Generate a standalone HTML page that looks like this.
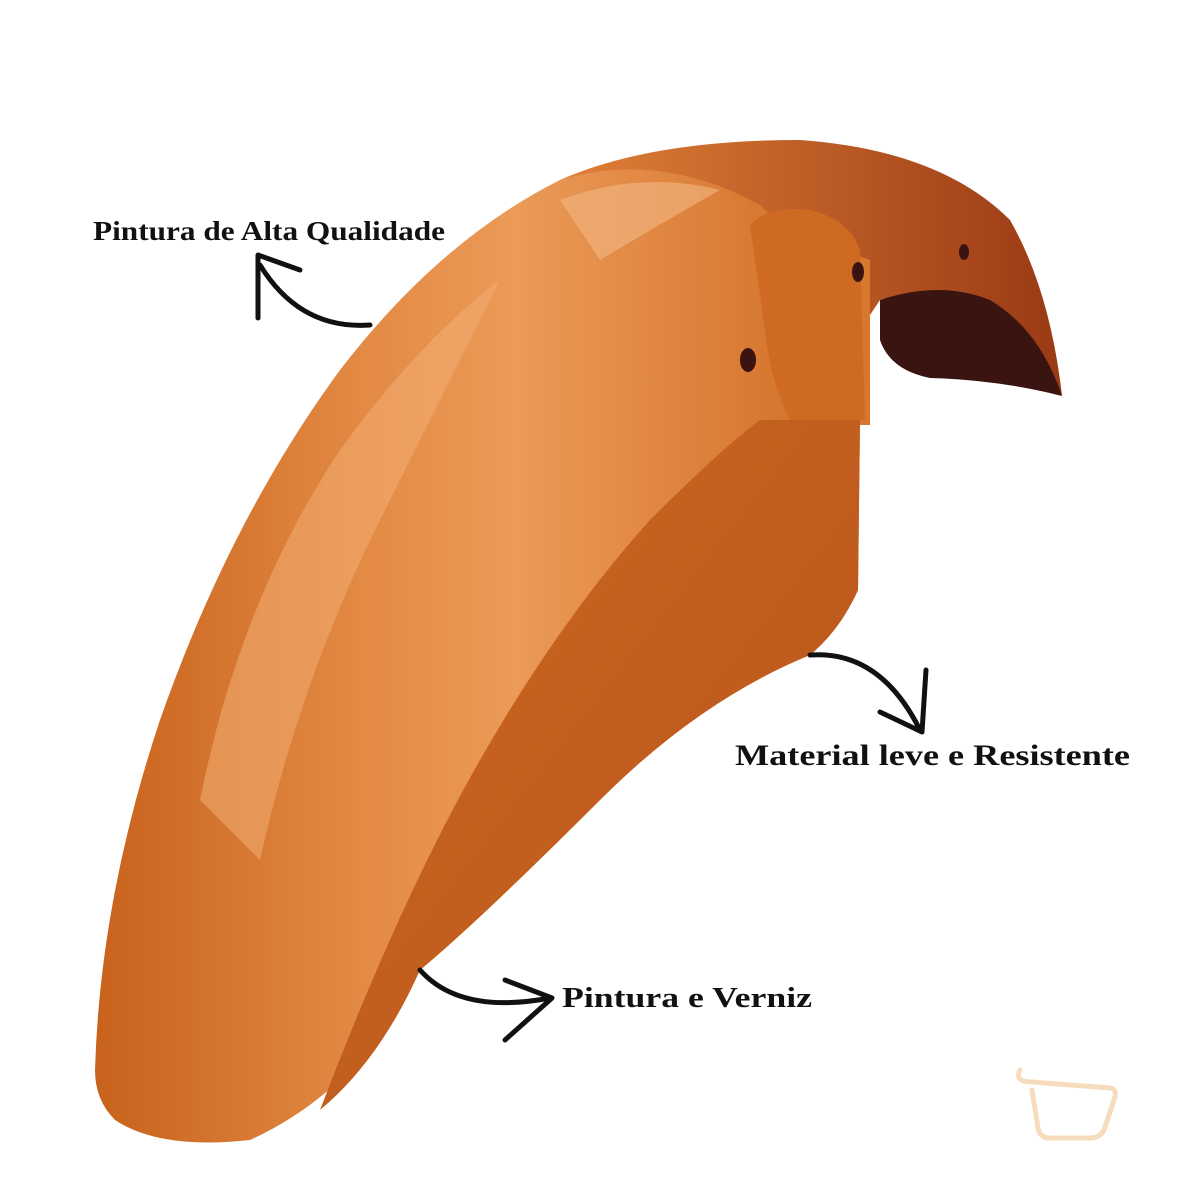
<!DOCTYPE html>
<html><head><meta charset="utf-8"><style>
html,body{margin:0;padding:0;background:#fff;}
svg{display:block}
text{font-family:"Liberation Serif",serif;font-weight:bold;fill:#111;}
</style></head><body>
<svg width="1200" height="1200" viewBox="0 0 1200 1200" xmlns="http://www.w3.org/2000/svg">
<defs>
<linearGradient id="g1" x1="0" y1="0" x2="1" y2="0">
<stop offset="0" stop-color="#c8621c"/>
<stop offset="0.35" stop-color="#e38a44"/>
<stop offset="0.55" stop-color="#eb9a58"/>
<stop offset="1" stop-color="#d06c24"/>
</linearGradient>
<linearGradient id="g2" x1="0" y1="0" x2="1" y2="1">
<stop offset="0" stop-color="#d06a22"/>
<stop offset="1" stop-color="#b4521a"/>
</linearGradient>
<linearGradient id="g3" x1="0" y1="0" x2="1" y2="0">
<stop offset="0" stop-color="#e08038"/>
<stop offset="1" stop-color="#9a3a14"/>
</linearGradient>
</defs>
<!-- dark interior -->
<path d="M880 300 Q960 270 1020 300 Q1050 340 1062 396 Q1000 380 930 378 Q890 370 880 340 Z" fill="#3a1410"/>
<!-- top rear part -->
<path d="M560 180 Q650 140 800 140 Q940 150 1010 220 Q1050 290 1062 396 Q1040 330 990 300 Q940 280 880 300 L860 330 Q820 250 760 250 Z" fill="url(#g3)"/>
<!-- filler behind tower -->
<path d="M700 200 L870 260 L870 425 L760 425 Z" fill="#d8782e"/>
<!-- main body -->
<path d="M95 1070 Q100 900 160 720 Q230 520 340 370 Q440 240 560 180 Q660 150 760 205 L860 300 L860 420 L858 590 Q840 630 810 655 Q700 700 600 800 Q480 920 420 970 Q360 1090 250 1140 Q160 1150 115 1120 Q95 1100 95 1070 Z" fill="url(#g1)"/>
<!-- side panel darker -->
<path d="M760 420 L860 420 L858 590 Q840 630 810 655 Q700 700 600 800 Q480 920 420 970 Q380 1060 320 1110 Q400 900 480 760 Q560 620 650 520 Q720 450 760 420 Z" fill="url(#g2)"/>
<!-- highlight -->
<path d="M200 800 Q240 600 340 450 Q420 340 500 280 Q440 400 380 520 Q300 680 260 860 Z" fill="#f2ae74" opacity="0.55"/>
<path d="M560 200 Q640 170 720 190 Q650 230 600 260 Z" fill="#f4b884" opacity="0.6"/>
<!-- tower -->
<path d="M750 225 Q770 205 810 210 Q850 220 860 250 L865 420 L790 420 Q770 380 765 330 Z" fill="#cf6a22"/>
<ellipse cx="748" cy="360" rx="8" ry="12" fill="#3a1410"/>
<ellipse cx="858" cy="272" rx="6" ry="10" fill="#3a1410"/>
<ellipse cx="964" cy="252" rx="5" ry="8" fill="#3a1410"/>
<!-- arrows -->
<g fill="none" stroke="#111" stroke-width="5" stroke-linecap="round" stroke-linejoin="round">
<path d="M370 325 Q300 330 260 265"/>
<path d="M258 318 L258 255 L300 270"/>
<path d="M810 655 Q880 650 920 730"/>
<path d="M880 712 L922 732 L926 670"/>
<path d="M420 970 Q460 1015 550 998"/>
<path d="M505 980 L552 998 L505 1040"/>
</g>
<text x="93" y="240" font-size="27" textLength="352" lengthAdjust="spacingAndGlyphs">Pintura de Alta Qualidade</text>
<text x="735" y="765" font-size="30" textLength="395" lengthAdjust="spacingAndGlyphs">Material leve e Resistente</text>
<text x="562" y="1007" font-size="29" textLength="250" lengthAdjust="spacingAndGlyphs">Pintura e Verniz</text>
<!-- logo -->
<g fill="none" stroke="#f6dcbc" stroke-width="5" stroke-linecap="round">
<path d="M1020 1070 Q1014 1082 1032 1082 L1110 1088 Q1118 1089 1114 1100 L1104 1130 Q1100 1138 1090 1138 L1050 1138 Q1040 1138 1038 1128 L1032 1090"/>
</g>
</svg>
</body></html>
